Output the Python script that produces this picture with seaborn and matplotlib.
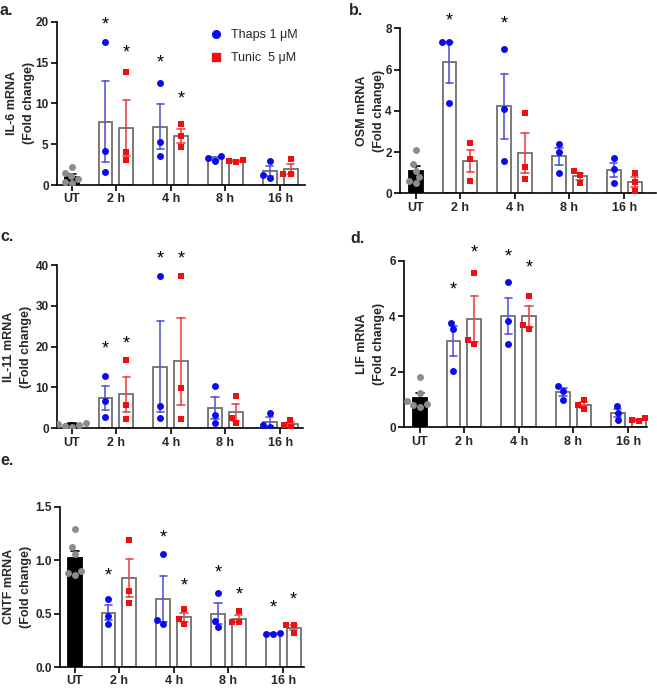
"""
ER-stress drugs and IL-6 family cytokine mRNA
---------------------------------------------
Five panels (a-e): fold change vs untreated (UT) after thapsigargin
or tunicamycin, bars = mean +/- SEM, dots = individual replicates.
"""

import pandas as pd
import matplotlib.pyplot as plt
from matplotlib.lines import Line2D
import seaborn as sns

sns.set_theme(style="ticks")
plt.rcParams["font.family"] = ["Liberation Sans", "DejaVu Sans"]

TIMES = ["UT", "2 h", "4 h", "8 h", "16 h"]
GROUPS = ["UT", "Thaps", "Tunic"]
LEGEND_LABELS = ["Thaps 1 \u03bcM", "Tunic  5 \u03bcM"]

# ---------------------------------------------------------
# Data, one list per time point 2/4/8/16 h
# ---------------------------------------------------------
il6_ut = [2.2, 1.5, 1.1, 0.7, 0.4, 0.2]
il6_thaps = [[17.5, 4.2, 1.6], [12.5, 5.3, 3.6], [3.0, 3.5, 3.3], [2.9, 0.9, 1.2]]
il6_tunic = [[13.8, 4.0, 3.1], [7.5, 6.0, 4.6], [2.8, 3.1, 2.9], [3.2, 1.3, 1.3]]
il6_stars = [("2 h", "Thaps", 19.8), ("2 h", "Tunic", 16.4), ("4 h", "Thaps", 15.1), ("4 h", "Tunic", 10.7)]

osm_ut = [2.1, 1.4, 1.1, 0.8, 0.6, 0.5]
osm_thaps = [[7.36, 7.36, 4.37], [7.0, 4.08, 1.58], [2.39, 1.99, 1.0], [1.7, 1.16, 0.52]]
osm_tunic = [[2.43, 1.66, 0.61], [3.88, 1.26, 0.7], [0.89, 1.08, 0.52], [0.97, 0.56, 0.11]]
osm_stars = [("2 h", "Thaps", 8.46), ("4 h", "Thaps", 8.3)]

il11_ut = [1.8, 1.4, 1.1, 0.9, 0.6, 0.4]
il11_thaps = [[12.8, 6.7, 2.7], [37.2, 5.5, 2.6], [10.3, 3.3, 1.2], [3.7, 0.4, 0.8]]
il11_tunic = [[16.7, 5.8, 2.4], [37.3, 9.8, 2.3], [8.0, 1.2, 2.6], [2.0, 0.3, 0.9]]
il11_stars = [("2 h", "Thaps", 19.8), ("2 h", "Tunic", 21.1), ("4 h", "Thaps", 41.8), ("4 h", "Tunic", 41.8)]

lif_ut = [1.8, 1.25, 0.95, 0.85, 0.8, 0.75]
lif_thaps = [[3.55, 3.78, 2.04], [5.25, 3.82, 2.99], [1.32, 1.5, 0.98], [0.78, 0.53, 0.26]]
lif_tunic = [[5.56, 3.0, 3.14], [4.75, 3.56, 3.69], [1.0, 0.79, 0.65], [0.22, 0.32, 0.28]]
lif_stars = [("2 h", "Thaps", 5.02), ("2 h", "Tunic", 6.34), ("4 h", "Thaps", 6.2), ("4 h", "Tunic", 5.8)]

cntf_ut = [1.29, 1.12, 1.06, 0.9, 0.88, 0.86]
cntf_thaps = [[0.64, 0.48, 0.4], [1.06, 0.4, 0.44], [0.69, 0.43, 0.37], [0.31, 0.32, 0.31]]
cntf_tunic = [[1.19, 0.71, 0.6], [0.54, 0.45, 0.4], [0.52, 0.42, 0.42], [0.39, 0.39, 0.32]]
cntf_stars = [("2 h", "Thaps", 0.87), ("4 h", "Thaps", 1.22), ("4 h", "Tunic", 0.77),
              ("8 h", "Thaps", 0.90), ("8 h", "Tunic", 0.69), ("16 h", "Thaps", 0.57),
              ("16 h", "Tunic", 0.64)]

# ---------------------------------------------------------
# Layout / style
# ---------------------------------------------------------
W, H = 657, 689
TIME_POS = [0.0, 0.8, 1.8, 2.8, 3.8]
OFFSET = {"UT": 0.0, "Thaps": -0.19, "Tunic": 0.19}
BAR_W = 0.25

FILL = {"UT": "black", "Thaps": "white", "Tunic": "white"}
EDGE = {"UT": "black", "Thaps": "#707070", "Tunic": "#707070"}
ERR = {"UT": "black", "Thaps": "#5a5ad8", "Tunic": "#ec4a4a"}
DOT = {"UT": "#8c8c8c", "Thaps": "#0a0aee", "Tunic": "#ee1010"}
MARK = {"UT": "o", "Thaps": "o", "Tunic": "s"}

# label, ut, thaps, tunic, stars, ylabel, ymax, ystep, fmt,
# px box (left, right, top, bottom), ylabel right edge (px), label pos (px)
panels = [
    ("a.", il6_ut, il6_thaps, il6_tunic, il6_stars, "IL-6 mRNA", 20, 5, "{:.0f}",
     (57, 305, 21.7, 185), 35, (0, 3)),
    ("b.", osm_ut, osm_thaps, osm_tunic, osm_stars, "OSM mRNA", 8, 2, "{:.0f}",
     (400, 656, 28.3, 193.3), 385, (349, 3)),
    ("c.", il11_ut, il11_thaps, il11_tunic, il11_stars, "IL-11 mRNA", 40, 10, "{:.0f}",
     (57, 303, 265, 428.3), 32, (0, 229)),
    ("d.", lif_ut, lif_thaps, lif_tunic, lif_stars, "LIF mRNA", 6, 2, "{:.0f}",
     (404, 647, 261, 427.3), 385, (350, 231)),
    ("e.", cntf_ut, cntf_thaps, cntf_tunic, cntf_stars, "CNTF mRNA", 1.5, 0.5, "{:.1f}",
     (60, 304, 506.7, 667), 32, (0, 453)),
]


def build_frame(ut, thaps, tunic):
    rows = [("UT", "UT", v) for v in ut]
    for t, vals in zip(TIMES[1:], thaps):
        rows += [(t, "Thaps", v) for v in vals]
    for t, vals in zip(TIMES[1:], tunic):
        rows += [(t, "Tunic", v) for v in vals]
    df = pd.DataFrame(rows, columns=["time", "group", "value"])
    df["x"] = df["time"].map(dict(zip(TIMES, TIME_POS))) + df["group"].map(OFFSET)
    return df


fig = plt.figure(figsize=(W / 100, H / 100), dpi=100)

for (lab, ut, thaps, tunic, stars, ylab, ymax, ystep, fmt,
     box, ylab_px, lab_px) in panels:
    left, right, top, bottom = box
    ax = fig.add_axes([left / W, 1 - bottom / H, (right - left) / W, (bottom - top) / H])
    df = build_frame(ut, thaps, tunic)

    # px per data unit along x, so the axis span matches the reference
    px_unit = 54.8
    ut_px = left + (15 if left < 200 else 16)

    for g in GROUPS:
        sub = df[df["group"] == g]
        sns.barplot(data=sub, x="x", y="value", native_scale=True, orient="x",
                    width=BAR_W, errorbar="se", capsize=0.13,
                    color=FILL[g], edgecolor=EDGE[g], linewidth=1.3,
                    err_kws={"color": ERR[g], "linewidth": 1.2}, ax=ax)
    for g in GROUPS:
        sub = df[df["group"] == g]
        sns.swarmplot(data=sub, x="x", y="value", native_scale=True, orient="x",
                      color=DOT[g], marker=MARK[g], size=5.0, linewidth=0,
                      zorder=4, warn_thresh=1, ax=ax)

    # significance stars
    for t, g, yv in stars:
        xs = TIME_POS[TIMES.index(t)] + OFFSET[g]
        ax.annotate("*", xy=(xs, yv), xytext=(0, -4.5), textcoords="offset points",
                    ha="center", va="baseline", fontsize=13, color="black",
                    annotation_clip=False)

    x0 = -(ut_px - left) / px_unit
    ax.set_xlim(x0, x0 + (right - left) / px_unit)
    ax.set_ylim(0, ymax)
    yt = [i * ystep for i in range(int(round(ymax / ystep)) + 1)]
    ax.set_yticks(yt)
    ax.set_yticklabels([fmt.format(v) for v in yt])
    ax.set_xticks(TIME_POS)
    ax.set_xticklabels(TIMES)
    ax.set_xlabel("")
    ax.set_ylabel(f"{ylab}\n(Fold change)", fontsize=9, fontweight="bold", linespacing=1.55)
    ax.yaxis.set_label_coords((ylab_px - left) / (right - left), 0.5)

    ax.tick_params(axis="both", direction="out", length=4, width=1.2,
                   pad=2, color="black")
    ax.tick_params(axis="y", labelsize=8.5)
    ax.tick_params(axis="x", labelsize=9)
    for t in ax.get_xticklabels() + ax.get_yticklabels():
        t.set_fontweight("bold")
    sns.despine(ax=ax)
    for s in ("left", "bottom"):
        ax.spines[s].set_linewidth(1.2)
        ax.spines[s].set_color("black")
    ax.set_facecolor("none")

    fig.text(lab_px[0] / W, 1 - lab_px[1] / H, lab, fontsize=11.5, fontweight="bold",
             ha="left", va="top")

    if lab == "a.":
        handles = [
            Line2D([], [], linestyle="none", marker=MARK[g], color=DOT[g], markersize=5.5)
            for g in ["Thaps", "Tunic"]
        ]
        ax.legend(handles, LEGEND_LABELS, loc="upper left", bbox_to_anchor=(0.58, 1.0),
                  frameon=False, fontsize=9, handletextpad=0.6, labelspacing=0.9,
                  handlelength=1.2, borderaxespad=0.2)

fig.savefig("out.png", dpi=100)
